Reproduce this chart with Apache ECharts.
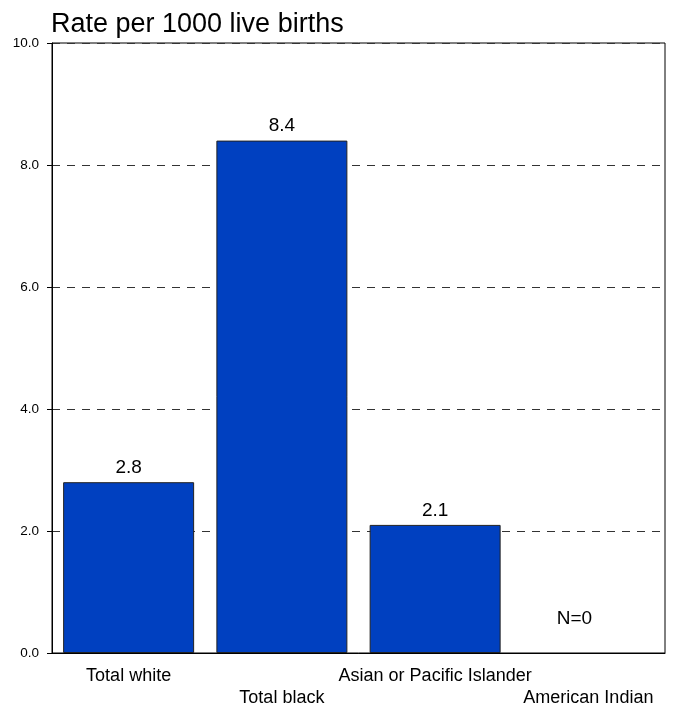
<!DOCTYPE html>
<html>
<head>
<meta charset="utf-8">
<script src="https://cdn.jsdelivr.net/npm/echarts@6/dist/echarts.min.js"></script>
<style>
html,body{margin:0;padding:0;background:#fff;}
#chart{width:673px;height:704px;}
</style>
</head>
<body>
<div id="chart"></div>
<script>
var categories = ['Total white', 'Total black', 'Asian or Pacific Islander', 'American Indian'];
var rates = [2.8, 8.4, 2.1, 0];
var counts = [null, null, null, 0];
var yTicks = [0, 2, 4, 6, 8, 10];
var titleText = 'Rate per 1000 live births';

var FONT = '"Liberation Sans", Arial, sans-serif';
var chart = echarts.init(document.getElementById('chart'), null, {renderer: 'canvas'});

var barData = rates.map(function (v, i) {
  if (counts[i] === 0) {
    return {
      value: v,
      itemStyle: {color: 'rgba(0,0,0,0)', borderWidth: 0},
      label: {offset: [-14, -20]}
    };
  }
  return v;
});

chart.setOption({
  animation: false,
  backgroundColor: '#fff',
  title: {
    text: titleText,
    left: 51,
    top: 11,
    padding: 0,
    textStyle: {fontFamily: FONT, fontSize: 27, fontWeight: 'normal', color: '#000'}
  },
  grid: {
    left: 52, right: 8, top: 43, bottom: 51,
    outerBoundsMode: 'none',
    containLabel: false,
    show: true, borderColor: '#000', borderWidth: 1, backgroundColor: 'transparent'
  },
  xAxis: {
    type: 'category',
    data: categories,
    axisLine: {show: true, lineStyle: {color: '#000', width: 1}},
    axisTick: {show: false},
    axisLabel: {
      interval: 0,
      margin: 12,
      fontFamily: FONT,
      fontSize: 18,
      color: '#000',
      lineHeight: 22,
      formatter: function (v, i) { return i % 2 ? '\n' + v : v; }
    }
  },
  yAxis: {
    type: 'value',
    min: yTicks[0],
    max: yTicks[yTicks.length - 1],
    interval: 2,
    axisLine: {show: true, lineStyle: {color: '#000', width: 1}},
    axisTick: {show: true, inside: false, length: 5, lineStyle: {color: '#000'}},
    axisLabel: {
      margin: 13,
      fontFamily: FONT,
      fontSize: 13.5,
      color: '#000',
      formatter: function (v) { return v.toFixed(1); }
    },
    splitLine: {show: true, lineStyle: {color: '#333', width: 1, type: [8, 7]}}
  },
  series: [{
    type: 'bar',
    data: barData,
    barWidth: 131,
    itemStyle: {color: '#0040C0', borderColor: '#222', borderWidth: 1},
    label: {
      show: true,
      position: 'top',
      distance: 5,
      fontFamily: FONT,
      fontSize: 19,
      color: '#000',
      formatter: function (p) {
        if (counts[p.dataIndex] === 0) return 'N=' + counts[p.dataIndex];
        return p.value.toFixed(1);
      }
    }
  }]
});
</script>
</body>
</html>
